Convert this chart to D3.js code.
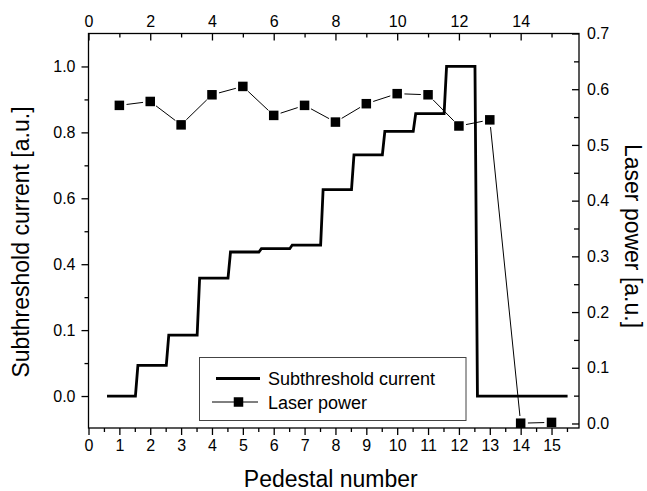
<!DOCTYPE html>
<html>
<head>
<meta charset="utf-8">
<script src="https://cdn.jsdelivr.net/npm/d3@7/dist/d3.min.js"></script>
<style>
  html, body { margin: 0; padding: 0; background: #fff; }
  svg { display: block; font-family: "Liberation Sans", Arial, Helvetica, sans-serif; }
</style>
</head>
<body>
<svg id="chart" width="647" height="491"></svg>
<script>
// Pedestal index (bottom axis) and measured quantities
const pedestals = [1, 2, 3, 4, 5, 6, 7, 8, 9, 10, 11, 12, 13, 14, 15];
const subthresholdCurrent = [0.0, 0.093, 0.185, 0.358, 0.437, 0.447, 0.458, 0.626, 0.732, 0.803, 0.857, 1.0, 0.0, 0.0, 0.0];
const laserPower = [0.571, 0.578, 0.536, 0.590, 0.605, 0.553, 0.571, 0.541, 0.574, 0.592, 0.590, 0.534, 0.545, 0.0005, 0.002];

// Axis ticks and labels
const bottomTicks = d3.range(0, 16, 1);
const bottomMinor = d3.range(0.5, 16, 1);
const topTicks = [0, 2, 4, 6, 8, 10, 12, 14];
const topMinor = [1, 3, 5, 7, 9, 11, 13, 15];
const leftTicks = [0.0, 0.2, 0.4, 0.6, 0.8, 1.0];
const leftTickLabels = ["0.0", "0.1", "0.4", "0.6", "0.8", "1.0"];
const leftMinor = [0.1, 0.3, 0.5, 0.7, 0.9];
const rightTicks = [0.0, 0.1, 0.2, 0.3, 0.4, 0.5, 0.6, 0.7];
const rightMinor = [0.05, 0.15, 0.25, 0.35, 0.45, 0.55, 0.65];

const seriesNames = ["Subthreshold current", "Laser power"];

const svg = d3.select("#chart");
const L = 88.5, R = 579, T = 33.5, B = 428;

const x = d3.scaleLinear().domain([0, 15.89]).range([L, R]);
const yL = d3.scaleLinear().domain([-0.097, 1.1]).range([B, T]);
const yR = d3.scaleLinear().domain([-0.0081, 0.7]).range([B, T]);

const tickFont = 16;
const titleFont = 23;

// Frame
svg.append("rect")
  .attr("x", L).attr("y", T).attr("width", R - L).attr("height", B - T)
  .attr("fill", "none").attr("stroke", "#000").attr("stroke-width", 1.3);

function styleAxis(g) {
  g.select(".domain").remove();
  g.selectAll("line").attr("stroke", "#000").attr("stroke-width", 1.3);
  g.selectAll("text").attr("font-size", tickFont).attr("fill", "#000")
    .attr("font-family", "Liberation Sans, Arial, sans-serif");
}

// Bottom axis
svg.append("g").attr("transform", `translate(0,${B})`)
  .call(d3.axisBottom(x).tickValues(bottomTicks).tickFormat(d3.format("d")).tickSize(7).tickPadding(5))
  .call(styleAxis);
svg.append("g").attr("transform", `translate(0,${B})`)
  .call(d3.axisBottom(x).tickValues(bottomMinor).tickFormat("").tickSize(4))
  .call(styleAxis);

// Top axis (ticks pointing into the plot)
svg.append("g").attr("transform", `translate(0,${T})`)
  .call(d3.axisTop(x).tickValues(topTicks).tickFormat(d3.format("d")).tickSize(-7).tickPadding(7))
  .call(styleAxis);
svg.append("g").attr("transform", `translate(0,${T})`)
  .call(d3.axisTop(x).tickValues(topMinor).tickFormat("").tickSize(-4))
  .call(styleAxis);

// Left axis
svg.append("g").attr("transform", `translate(${L},0)`)
  .call(d3.axisLeft(yL).tickValues(leftTicks).tickFormat((d, i) => leftTickLabels[i]).tickSize(7).tickPadding(6))
  .call(styleAxis);
svg.append("g").attr("transform", `translate(${L},0)`)
  .call(d3.axisLeft(yL).tickValues(leftMinor).tickFormat("").tickSize(4))
  .call(styleAxis);

// Right axis (ticks pointing into the plot)
svg.append("g").attr("transform", `translate(${R},0)`)
  .call(d3.axisRight(yR).tickValues(rightTicks).tickFormat(d3.format(".1f")).tickSize(-7).tickPadding(8))
  .call(styleAxis);
svg.append("g").attr("transform", `translate(${R},0)`)
  .call(d3.axisRight(yR).tickValues(rightMinor).tickFormat("").tickSize(-5))
  .call(styleAxis);

// Axis titles
svg.append("text")
  .attr("x", (L + R) / 2 - 3).attr("y", 487)
  .attr("text-anchor", "middle").attr("font-size", titleFont)
  .text("Pedestal number");
svg.append("text")
  .attr("transform", `translate(29,${242}) rotate(-90)`)
  .attr("text-anchor", "middle").attr("font-size", titleFont)
  .text("Subthreshold current [a.u.]");
svg.append("text")
  .attr("transform", `translate(625,${236}) rotate(90)`)
  .attr("text-anchor", "middle").attr("font-size", titleFont)
  .text("Laser power [a.u.]");

// Subthreshold current: stepped plateau per pedestal
const stepPts = [];
pedestals.forEach((p, i) => {
  stepPts.push([p - 0.4, subthresholdCurrent[i]]);
  stepPts.push([p + 0.52, subthresholdCurrent[i]]);
});
svg.append("path")
  .datum(stepPts)
  .attr("fill", "none").attr("stroke", "#000").attr("stroke-width", 2.8)
  .attr("stroke-linejoin", "miter")
  .attr("d", d3.line().x(d => x(d[0])).y(d => yL(d[1])));

// Laser power: thin connecting segments that stop short of the markers
const ms = 9.5;
const lp = pedestals.map((p, i) => [x(p), yR(laserPower[i])]);
const segs = d3.pairs(lp);
const gap = ms / 2 + 2.5;
svg.append("g").selectAll("line").data(segs).join("line")
  .each(function([a, b]) {
    const dx = b[0] - a[0], dy = b[1] - a[1];
    const len = Math.hypot(dx, dy);
    const ux = dx / len, uy = dy / len;
    d3.select(this)
      .attr("x1", a[0] + ux * gap).attr("y1", a[1] + uy * gap)
      .attr("x2", b[0] - ux * gap).attr("y2", b[1] - uy * gap);
  })
  .attr("stroke", "#000").attr("stroke-width", 1);
svg.append("g").selectAll("rect").data(lp).join("rect")
  .attr("x", d => d[0] - ms / 2).attr("y", d => d[1] - ms / 2)
  .attr("width", ms).attr("height", ms).attr("fill", "#000");

// Legend
const lg = svg.append("g");
lg.append("rect")
  .attr("x", 199.5).attr("y", 357.5).attr("width", 266.5).attr("height", 63)
  .attr("fill", "#fff").attr("stroke", "#444").attr("stroke-width", 1);
lg.append("line").attr("x1", 216).attr("x2", 260).attr("y1", 378.5).attr("y2", 378.5)
  .attr("stroke", "#000").attr("stroke-width", 2.8);
lg.append("text").attr("x", 268).attr("y", 385).attr("font-size", 18).text(seriesNames[0]);
lg.append("line").attr("x1", 212).attr("x2", 258).attr("y1", 402).attr("y2", 402)
  .attr("stroke", "#000").attr("stroke-width", 1);
lg.append("rect").attr("x", 238.5 - ms / 2).attr("y", 402 - ms / 2)
  .attr("width", ms).attr("height", ms).attr("fill", "#000");
lg.append("text").attr("x", 268).attr("y", 409).attr("font-size", 18).text(seriesNames[1]);
</script>
</body>
</html>
